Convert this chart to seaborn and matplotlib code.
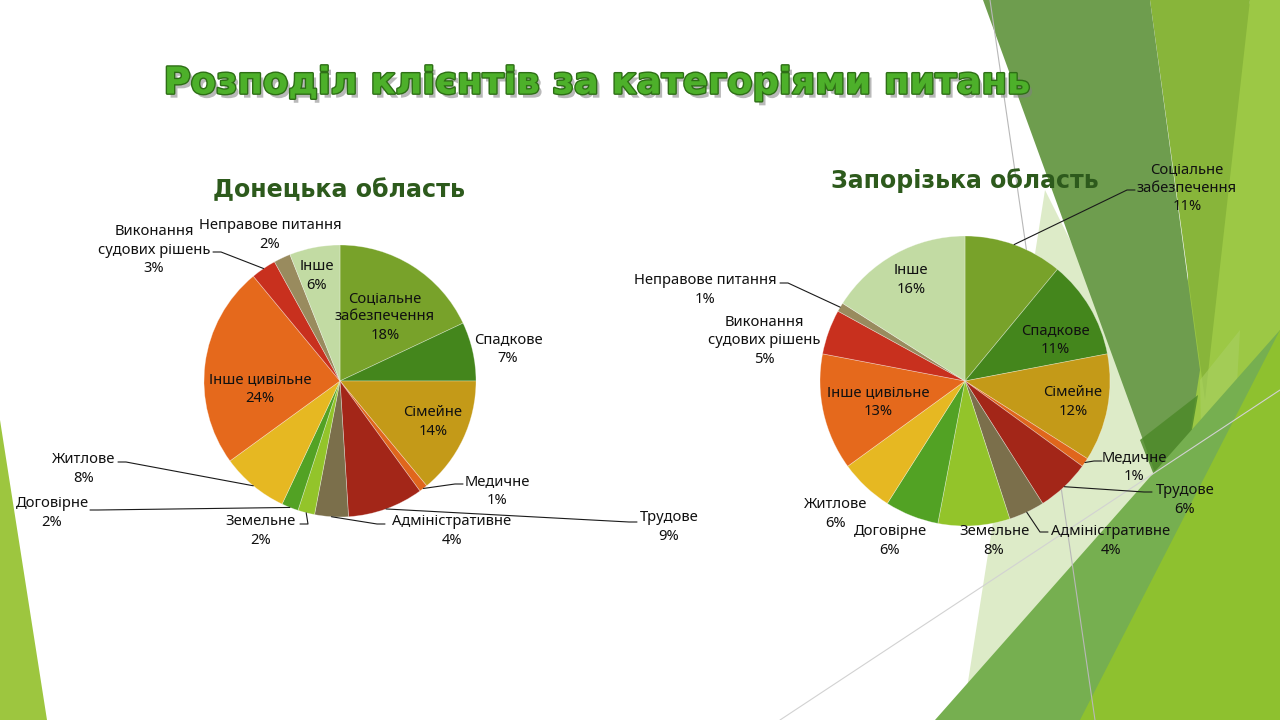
import matplotlib
matplotlib.use("Agg")
import numpy as np
import matplotlib.pyplot as plt
import matplotlib.patheffects as pe
from matplotlib.patches import Polygon
import seaborn as sns

# Категорії питань, за годинниковою стрілкою від 12-ї години
categories = ["Соціальне забезпечення", "Спадкове", "Сімейне", "Медичне", "Трудове",
              "Адміністративне", "Земельне", "Договірне", "Житлове", "Інше цивільне",
              "Виконання судових рішень", "Неправове питання", "Інше"]
label_names = ["Соціальне\nзабезпечення", "Спадкове", "Сімейне", "Медичне", "Трудове",
               "Адміністративне", "Земельне", "Договірне", "Житлове", "Інше цивільне",
               "Виконання\nсудових рішень", "Неправове питання", "Інше"]
donetsk_pct = [18, 7, 14, 1, 9, 4, 2, 2, 8, 24, 3, 2, 6]
zaporizhzhia_pct = [11, 11, 12, 1, 6, 4, 8, 6, 6, 13, 5, 1, 16]

title = "Розподіл клієнтів за категоріями питань"
titles = ["Донецька область", "Запорізька область"]

slice_colors = ["#78A22A", "#44861C", "#C49A18", "#E0661C", "#A32618", "#7B6F4B",
                "#93C42A", "#52A224", "#E6B822", "#E5691C", "#C8301E", "#998B5E", "#C2DBA3"]

W, H = 1280, 720


def Y(y):
    # пікселі зверху -> координати осі знизу
    return H - y


# підписи: (x, y центру тексту в пікселях, кінець виноски або None)
donetsk_layout = [
    (385, 317, None), (508, 349, None), (433, 422, None), (497, 491, (463, 484)),
    (669, 527, (637, 522)), (452, 531, (385, 524)), (261, 531, (300, 524)),
    (52, 513, (90, 510)), (84, 469, (118, 462)), (260, 389, None),
    (154, 250, (213, 252)), (270, 235, None), (317, 276, None),
]
zaporizhzhia_layout = [
    (1187, 188, (1135, 190)), (1055, 340, None), (1073, 402, None), (1134, 467, (1102, 461)),
    (1185, 500, (1152, 492)), (1111, 541, (1048, 532)), (994, 541, None),
    (890, 541, None), (836, 514, None), (878, 402, None),
    (764, 341, None), (705, 290, (780, 283)), (911, 280, None),
]

sns.set_theme(style="white")
plt.rcParams["font.family"] = ["Noto Sans", "DejaVu Sans"]

fig = plt.figure(figsize=(12.8, 7.2), dpi=100)
fig.patch.set_facecolor("white")
ax = fig.add_axes([0, 0, 1, 1])


def bg(points, color, alpha=1.0):
    ax.add_patch(Polygon([(x, Y(y)) for x, y in points], closed=True,
                         facecolor=color, edgecolor="none", alpha=alpha, zorder=0))


# фон слайда (зелені трикутники)
bg([(0, 420), (0, 720), (47, 720)], "#9DC63F")
bg([(1250, 0), (1280, 0), (1280, 720), (1090, 720)], "#9CC845")
bg([(1150, 0), (1250, 0), (1205, 400)], "#88B53A")
bg([(1045, 190), (1230, 560), (1120, 640), (962, 720)], "#DDEBC8")
bg([(983, 0), (1150, 0), (1200, 370), (1175, 528)], "#6E9D4E")
bg([(1140, 440), (1198, 395), (1175, 528)], "#4E8A2A", 0.85)
bg([(1200, 380), (1240, 330), (1225, 600), (1205, 620)], "#A8D062", 0.6)
bg([(935, 720), (1280, 330), (1280, 720)], "#76AF50")
bg([(1080, 720), (1280, 330), (1280, 720)], "#8EC12F")
ax.plot([990, 1095], [Y(0), Y(720)], color="#B8B8B8", lw=0.8, zorder=0.5)
ax.plot([780, 1280], [Y(720), Y(390)], color="#D2D2D2", lw=0.8, zorder=0.5)


def draw_pie(values, cx, cy, r, layout):
    wedges, _ = ax.pie(values, colors=slice_colors, startangle=90, counterclock=False,
                       center=(cx, Y(cy)), radius=r, frame=True,
                       wedgeprops=dict(linewidth=0.5, edgecolor=(1, 1, 1, 0.4)))
    for w in wedges:
        w.set_zorder(2)
    for i, (w, v) in enumerate(zip(wedges, values)):
        tx, ty, end = layout[i]
        ax.text(tx, Y(ty), f"{label_names[i]}\n{v}%", ha="center", va="center",
                fontsize=10.6, color="#111111", linespacing=1.3, zorder=4)
        if end is not None:
            mid = np.deg2rad((w.theta1 + w.theta2) / 2)
            sx, sy = cx + r * np.cos(mid), Y(cy) + r * np.sin(mid)
            ex, ey = end[0], Y(end[1])
            elbow = ex + 8 * np.sign(ex - tx)
            ax.plot([sx, elbow, ex], [sy, ey, ey], color="#1A1A1A", lw=0.8, zorder=3)


draw_pie(donetsk_pct, 340, 381, 136, donetsk_layout)
draw_pie(zaporizhzhia_pct, 965, 381, 145, zaporizhzhia_layout)

ax.set_xlim(0, W)
ax.set_ylim(0, H)
ax.set_aspect("equal", adjustable="box")
ax.axis("off")

renderer = fig.canvas.get_renderer()


def fit_width(t, target):
    w = t.get_window_extent(renderer).width
    t.set_fontsize(t.get_fontsize() * target / w)


t = ax.text(598, Y(83), title, ha="center", va="center", fontsize=30, fontweight="bold",
            family=["DejaVu Sans"], color="#4DB02A", zorder=5,
            path_effects=[pe.SimplePatchShadow(offset=(2.5, -3), shadow_rgbFace="#808080", alpha=0.55),
                          pe.Stroke(linewidth=2.0, foreground="#2E6E16"), pe.Normal()])
fit_width(t, 865)

for txt, (x, y, wd) in zip(titles, [(339, 190, 254), (965, 181, 269)]):
    s = ax.text(x, Y(y), txt, ha="center", va="center", fontsize=18, fontweight="bold",
                family=["DejaVu Sans"], color="#2D5A1C", zorder=5)
    fit_width(s, wd)

fig.savefig("out.png", dpi=100, facecolor="white")
